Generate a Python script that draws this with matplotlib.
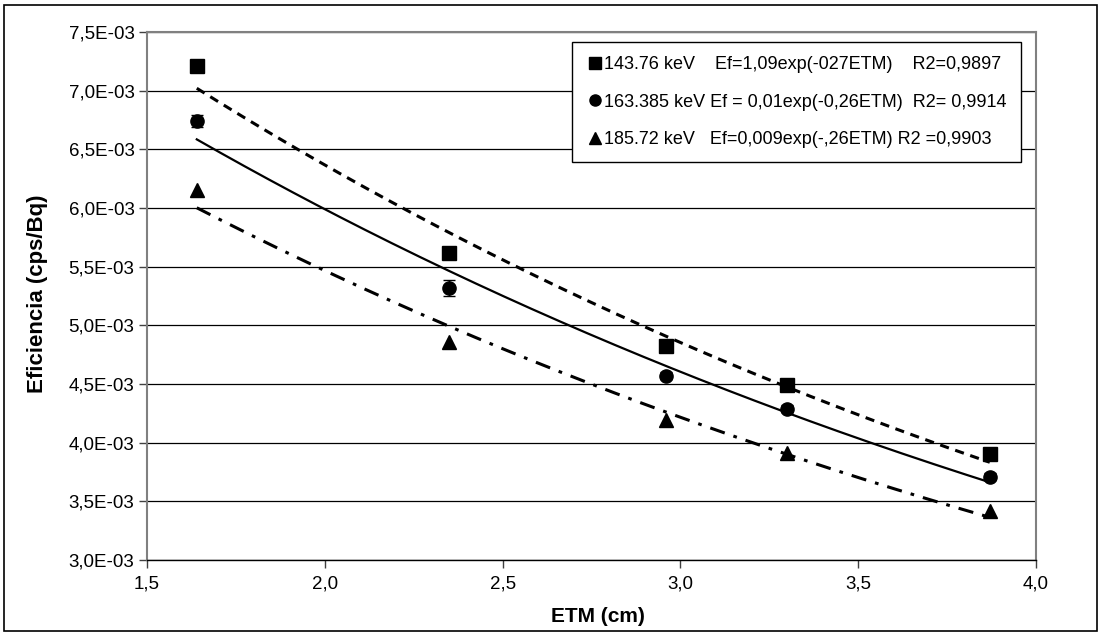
import numpy as np
import matplotlib
matplotlib.use("Agg")
import matplotlib.pyplot as plt
from matplotlib.ticker import FuncFormatter, MultipleLocator
from matplotlib.lines import Line2D
from matplotlib.patches import Rectangle

plt.rcParams['font.family'] = ['Liberation Sans', 'DejaVu Sans']

# Data (values in 1E-03 cps/Bq)
etm = [1.64, 2.35, 2.96, 3.30, 3.87]
ef_143 = [7.21, 5.62, 4.82, 4.49, 3.90]
ef_163 = [6.74, 5.32, 4.57, 4.29, 3.71]
ef_163_err = [0.05, 0.07, 0.03, 0.03, 0.03]
ef_185 = [6.15, 4.86, 4.19, 3.91, 3.42]

labels = ["143.76 keV    Ef=1,09exp(-027ETM)    R2=0,9897",
          "163.385 keV Ef = 0,01exp(-0,26ETM)  R2= 0,9914",
          "185.72 keV   Ef=0,009exp(-,26ETM) R2 =0,9903"]

fig = plt.figure(figsize=(11.02, 6.35), dpi=100)
ax = fig.add_axes([147/1102, 1-560/635, (1036-147)/1102, (560-32)/635])

x = np.array(etm)
xs = np.linspace(min(etm), max(etm), 200)

def expfit(y):
    b, a = np.polyfit(x, np.log(np.array(y)), 1)
    return np.exp(a + b*xs)

# horizontal gridlines
ax.yaxis.grid(True, color='black', linewidth=0.9)
ax.set_axisbelow(True)

# trendlines
ax.plot(xs, expfit(ef_143), color='black', lw=2.2, ls=(0, (3, 2.2)))
ax.plot(xs, expfit(ef_163), color='black', lw=1.6, ls='-')
ax.plot(xs, expfit(ef_185), color='black', lw=2.2, ls=(0, (5, 3, 1.2, 3)))

# data points
ms = 9.5
ax.plot(etm, ef_143, ls='none', marker='s', color='black', ms=ms, zorder=5)
ax.errorbar(etm, ef_163, yerr=ef_163_err, ls='none', marker='o', color='black',
            ms=ms, capsize=4, elinewidth=1, capthick=1, zorder=5)
ax.plot(etm, ef_185, ls='none', marker='^', color='black', ms=ms+0.5, zorder=5)

ax.set_xlim(1.5, 4.0)
ax.set_ylim(3.0, 7.5)
ax.xaxis.set_major_locator(MultipleLocator(0.5))
ax.yaxis.set_major_locator(MultipleLocator(0.5))
ax.xaxis.set_major_formatter(FuncFormatter(lambda v, p: f"{v:.1f}".replace('.', ',')))
ax.yaxis.set_major_formatter(FuncFormatter(lambda v, p: f"{v:.1f}".replace('.', ',') + "E-03"))
ax.tick_params(axis='both', direction='out', length=6, width=1, color='#404040',
               labelsize=13.5, pad=3)
ax.tick_params(axis='x', pad=5)

for s in ['left', 'right', 'top']:
    ax.spines[s].set_color('#808080')
    ax.spines[s].set_linewidth(1.5)
ax.spines['bottom'].set_color('black')
ax.spines['bottom'].set_linewidth(1)

fig.text(38/1102, 1-294/635, "Eficiencia (cps/Bq)", rotation=90, ha='center',
         va='center', fontsize=16, fontweight='bold')
fig.text(598/1102, 1-617/635, "ETM (cm)", ha='center', va='center',
         fontsize=15, fontweight='bold')

handles = [Line2D([], [], ls='none', marker='s', color='black', ms=8),
           Line2D([], [], ls='none', marker='o', color='black', ms=8),
           Line2D([], [], ls='none', marker='^', color='black', ms=8.5)]
leg = ax.legend(handles, labels, loc='upper left',
                bbox_to_anchor=((572-147)/889, (560-42)/528),
                fontsize=13, frameon=True, fancybox=False, shadow=False,
                borderpad=0.8, labelspacing=1.12, handletextpad=0.05,
                handlelength=0.9, borderaxespad=0)
leg.get_frame().set_edgecolor('black')
leg.get_frame().set_linewidth(1)
leg.get_frame().set_alpha(1)

fig.patches.append(Rectangle((4/1102, 4/635), 1093/1102, 626/635,
                             transform=fig.transFigure, fill=False,
                             edgecolor='black', linewidth=1.2))

fig.savefig("out.png", dpi=100)
